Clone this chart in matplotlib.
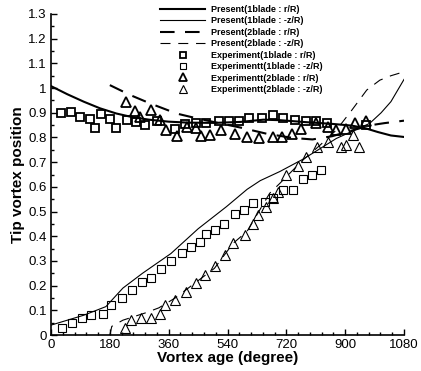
import matplotlib
matplotlib.use('Agg')
import matplotlib.pyplot as plt
from matplotlib.ticker import MultipleLocator, FuncFormatter

plt.rcParams['font.family'] = ['Liberation Sans', 'DejaVu Sans']

# Present (computed) curves
p1r_x = [0, 50, 100, 150, 200, 250, 300, 360, 420, 500, 580, 650, 700, 780, 860, 920, 960, 1000, 1040, 1080]
p1r_y = [1.008, 0.975, 0.945, 0.918, 0.897, 0.882, 0.872, 0.864, 0.860, 0.859, 0.863, 0.872, 0.870, 0.862, 0.855, 0.848, 0.838, 0.822, 0.808, 0.802]

p1z_x = [0, 50, 100, 168, 220, 280, 367, 450, 537, 600, 640, 700, 771, 820, 873, 930, 975, 1010, 1040, 1080]
p1z_y = [0.04, 0.06, 0.08, 0.115, 0.19, 0.25, 0.33, 0.43, 0.52, 0.59, 0.625, 0.662, 0.712, 0.752, 0.796, 0.83, 0.857, 0.90, 0.945, 1.035]

p2r_x = [180, 242, 303, 384, 425, 500, 580, 660, 740, 800, 860, 920, 980, 1020, 1080]
p2r_y = [1.012, 0.972, 0.938, 0.897, 0.884, 0.862, 0.840, 0.815, 0.798, 0.792, 0.805, 0.828, 0.850, 0.858, 0.868]

p2z_x = [180, 186, 220, 290, 330, 380, 450, 500, 557, 600, 669, 700, 771, 820, 873, 920, 966, 1006, 1040, 1080]
p2z_y = [0.0, 0.035, 0.06, 0.09, 0.11, 0.15, 0.22, 0.27, 0.371, 0.42, 0.574, 0.614, 0.709, 0.765, 0.830, 0.91, 0.992, 1.032, 1.05, 1.066]

# Experiment data
e1r_x = [31, 60, 90, 119, 134, 152, 181, 200, 232, 259, 289, 323, 379, 410, 444, 475, 514, 545, 575, 606, 646, 678, 710, 746, 780, 812, 845, 964]
e1r_y = [0.900, 0.904, 0.884, 0.873, 0.839, 0.896, 0.876, 0.839, 0.870, 0.862, 0.852, 0.866, 0.833, 0.854, 0.857, 0.857, 0.866, 0.866, 0.868, 0.877, 0.877, 0.892, 0.880, 0.870, 0.868, 0.866, 0.857, 0.850]

e1z_x = [33, 63, 94, 122, 159, 185, 216, 247, 278, 306, 338, 366, 400, 427, 456, 473, 501, 530, 562, 591, 618, 656, 680, 711, 741, 771, 799, 826]
e1z_y = [0.030, 0.050, 0.067, 0.081, 0.086, 0.120, 0.148, 0.181, 0.216, 0.229, 0.269, 0.298, 0.331, 0.358, 0.377, 0.408, 0.425, 0.449, 0.491, 0.506, 0.533, 0.538, 0.553, 0.588, 0.587, 0.633, 0.650, 0.668]

e2r_x = [229, 257, 272, 306, 333, 353, 384, 415, 445, 460, 486, 519, 562, 600, 637, 678, 707, 737, 766, 812, 848, 873, 903, 930, 963]
e2r_y = [0.945, 0.907, 0.884, 0.911, 0.870, 0.830, 0.806, 0.843, 0.837, 0.806, 0.808, 0.830, 0.812, 0.800, 0.796, 0.800, 0.800, 0.816, 0.835, 0.858, 0.843, 0.830, 0.833, 0.858, 0.868]

e2z_x = [227, 246, 274, 305, 334, 350, 380, 413, 443, 472, 501, 532, 557, 593, 618, 632, 657, 680, 696, 718, 756, 781, 814, 848, 888, 902, 924, 942]
e2z_y = [0.030, 0.061, 0.067, 0.067, 0.085, 0.120, 0.142, 0.174, 0.211, 0.243, 0.279, 0.323, 0.371, 0.405, 0.449, 0.486, 0.517, 0.553, 0.580, 0.650, 0.684, 0.722, 0.762, 0.780, 0.760, 0.771, 0.811, 0.761]

fig = plt.figure(figsize=(4.21, 3.71), dpi=100)
ax = fig.add_axes([51/421, 1-335/371, 353/421, 321/371])

ax.plot(p1r_x, p1r_y, 'k-', lw=1.5, label='Present(1blade : r/R)')
ax.plot(p1z_x, p1z_y, 'k-', lw=0.8, label='Present(1blade : -z/R)')
ax.plot(p2r_x, p2r_y, 'k--', lw=1.5, dashes=(7, 5), label='Present(2blade : r/R)')
ax.plot(p2z_x, p2z_y, 'k--', lw=0.8, dashes=(9, 7), label='Present(2blade : -z/R)')

ax.plot(e1r_x, e1r_y, 's', ms=6, mfc='none', mec='k', mew=1.3, label='Experiment(1blade : r/R)')
ax.plot(e1z_x, e1z_y, 's', ms=6, mfc='none', mec='k', mew=0.8, label='Experimentt(1blade : -z/R)')
ax.plot(e2r_x, e2r_y, '^', ms=7, mfc='none', mec='k', mew=1.3, label='Experimentt(2blade : r/R)')
ax.plot(e2z_x, e2z_y, '^', ms=7, mfc='none', mec='k', mew=0.8, label='Experimentt(2blade : -z/R)')

ax.set_xlim(0, 1080)
ax.set_ylim(0, 1.3)
ax.xaxis.set_major_locator(MultipleLocator(180))
ax.xaxis.set_minor_locator(MultipleLocator(36))
ax.yaxis.set_major_locator(MultipleLocator(0.1))
ax.yaxis.set_minor_locator(MultipleLocator(0.05))
ax.yaxis.set_major_formatter(FuncFormatter(lambda v, p: '%g' % round(v, 2)))
ax.tick_params(which='both', direction='in', labelsize=9.5, width=1)
ax.tick_params(which='major', length=4, pad=3)
ax.tick_params(which='minor', length=2.5)
ax.spines['top'].set_visible(False)
ax.spines['right'].set_visible(False)
ax.spines['left'].set_linewidth(1.2)
ax.spines['bottom'].set_linewidth(1.2)

ax.set_xlabel('Vortex age (degree)', fontsize=11, fontweight='bold', labelpad=0)
ax.set_ylabel('Tip vortex position', fontsize=11, fontweight='bold', labelpad=2)

leg = ax.legend(loc='upper left', bbox_to_anchor=(160/421, 1-5/371), bbox_transform=fig.transFigure,
                frameon=False, prop={'size': 6.5, 'weight': 'bold'}, handlelength=5,
                handletextpad=0.7, labelspacing=0.27, borderpad=0, borderaxespad=0,
                markerscale=0.8)

fig.savefig('out.png', dpi=100)
